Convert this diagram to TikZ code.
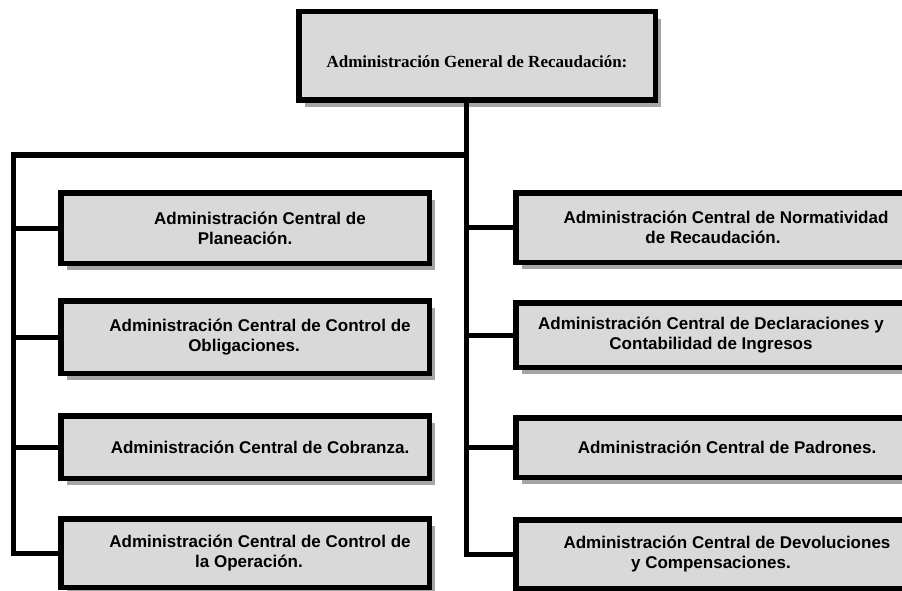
\documentclass[tikz,border=0pt]{standalone}
\usepackage{fontspec}
\setmainfont{Liberation Serif}
\setsansfont{Liberation Sans}
\usetikzlibrary{shadows}
\definecolor{boxgray}{RGB}{217,217,217}
\definecolor{shadowgray}{RGB}{165,165,165}
\begin{document}
\begin{tikzpicture}[x=1pt,y=-1pt,
  box/.style={draw=black, line width=5.5pt, fill=boxgray, inner sep=0pt,
    drop shadow={shadow xshift=6pt, shadow yshift=-7pt, fill=shadowgray, opacity=1}},
  lbox/.style={box, minimum width=368.5pt},
  rbox/.style={box, minimum width=421.5pt},
  conn/.style={line width=5pt, line join=miter},
  lbl/.style={font=\sffamily\bfseries\fontsize{17}{20}\selectfont, align=center, inner sep=0pt},
  tlbl/.style={font=\rmfamily\bfseries\fontsize{17}{20}\selectfont, inner sep=0pt}]
\useasboundingbox (0,0) rectangle (902,591);
% boxes
\node[box, minimum width=356.5pt, minimum height=88.5pt] (top) at (477,56) {};
\node[lbox, minimum height=70.5pt] (l1) at (245,228) {};
\node[lbox, minimum height=72.5pt] (l2) at (245,337) {};
\node[lbox, minimum height=62.5pt] (l3) at (245,447) {};
\node[lbox, minimum height=68.5pt] (l4) at (245,553) {};
\node[rbox, minimum height=69.5pt] (r1) at (726.5,227.5) {};
\node[rbox, minimum height=64.5pt] (r2) at (726.5,335) {};
\node[rbox, minimum height=59.5pt] (r3) at (726.5,447.5) {};
\node[rbox, minimum height=68.5pt] (r4) at (726.5,554) {};
% texts
\node[tlbl] (toptext) at (477,62) {Administración General de Recaudación:};
\node[lbl] (t1) at (260,228) {Administración Central de\\Planeación.\hspace*{30pt}};
\node[lbl] (t2) at (260,337) {Administración Central de Control de\\Obligaciones.\hspace*{32pt}};
\node[lbl] (t3) at (260,447) {Administración Central de Cobranza.};
\node[lbl] (t4) at (260,553) {Administración Central de Control de\\la Operación.\hspace*{22pt}};
\node[lbl] (u1) at (726,227.5) {Administración Central de Normatividad\\de Recaudación.\hspace*{26pt}};
\node[lbl] (u2) at (711,335) {Administración Central de Declaraciones y\\Contabilidad de Ingresos};
\node[lbl] (u3) at (727,447.5) {Administración Central de Padrones.};
\node[lbl] (u4) at (727,554) {Administración Central de Devoluciones\\y Compensaciones.\hspace*{32pt}};
% connectors
\coordinate (tl) at (13,155);
\coordinate (cv) at (466,155);
\draw[conn] (cv |- top.south) -- (cv |- r4.west) -- (r4.west);
\draw[conn] (cv) -- (tl) -- (tl |- l4.west) -- (l4.west);
\draw[conn] (tl |- l1.west) -- (l1.west);
\draw[conn] (tl |- l2.west) -- (l2.west);
\draw[conn] (tl |- l3.west) -- (l3.west);
\draw[conn] (cv |- r1.west) -- (r1.west);
\draw[conn] (cv |- r2.west) -- (r2.west);
\draw[conn] (cv |- r3.west) -- (r3.west);
\end{tikzpicture}
\end{document}
